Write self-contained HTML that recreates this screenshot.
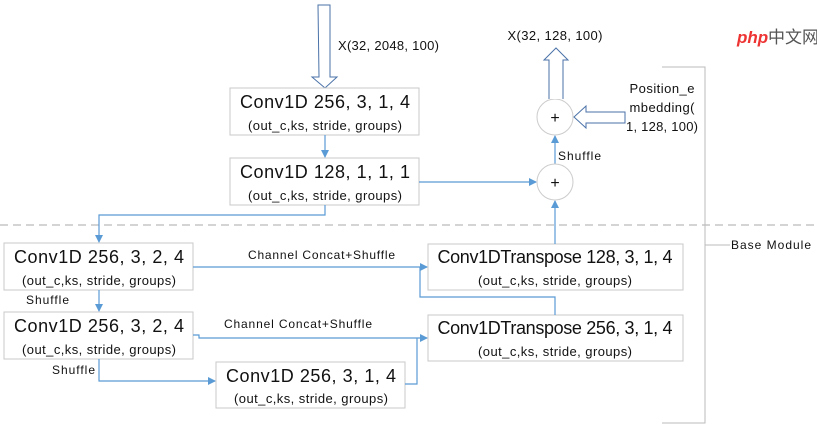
<!DOCTYPE html>
<html><head><meta charset="utf-8"><style>
body{margin:0;background:#fff;width:817px;height:442px;overflow:hidden}
text{font-family:"Liberation Sans","Noto Sans CJK SC",sans-serif;fill:#111}
</style></head><body>
<svg width="817" height="442" viewBox="0 0 817 442" xmlns="http://www.w3.org/2000/svg">
<defs><marker id="a" markerWidth="8" markerHeight="8" refX="7" refY="4" orient="auto" markerUnits="userSpaceOnUse"><path d="M0,0 L8,4 L0,8z" fill="#5b9bd5"/></marker></defs>
<line x1="0" y1="225" x2="817" y2="225" stroke="#aaa" stroke-dasharray="8,5"/>
<path d="M662,67 H705 V423 H662 M705,245 H730" fill="none" stroke="#bbb"/>
<text x="731" y="249" font-size="12" textLength="80">Base Module</text>
<text x="737" y="43" font-size="17" style="fill:#e33;font-weight:bold;font-style:italic">php</text>
<text x="768" y="43" font-size="17" style="fill:#555">中文网</text>
<path d="M318,5 H330 V77 H337 L325,88 L312,77 H319 Z" fill="#fff" stroke="#4a72a8"/>
<text x="338" y="50" font-size="13" textLength="101">X(32, 2048, 100)</text>
<g fill="#fff" stroke="#c8c8c8">
<rect x="230" y="88" width="189" height="47"/>
<rect x="230" y="158" width="189" height="47"/>
<rect x="4" y="243" width="189" height="47"/>
<rect x="4" y="312" width="189" height="47"/>
<rect x="216" y="362" width="189" height="46"/>
<rect x="428" y="244" width="255" height="46"/>
<rect x="428" y="315" width="255" height="46"/>
</g>
<g font-size="18" text-anchor="middle">
<text x="325" y="108" textLength="170">Conv1D 256, 3, 1, 4</text>
<text x="325" y="178" textLength="170">Conv1D 128, 1, 1, 1</text>
<text x="99" y="263" textLength="170">Conv1D 256, 3, 2, 4</text>
<text x="99" y="332" textLength="170">Conv1D 256, 3, 2, 4</text>
<text x="311" y="382" textLength="170">Conv1D 256, 3, 1, 4</text>
<text x="555" y="263" textLength="235">Conv1DTranspose 128, 3, 1, 4</text>
<text x="555" y="334" textLength="235">Conv1DTranspose 256, 3, 1, 4</text>
</g>
<g font-size="13" text-anchor="middle">
<text x="325" y="130" textLength="154">(out_c,ks, stride, groups)</text>
<text x="325" y="200" textLength="154">(out_c,ks, stride, groups)</text>
<text x="99" y="285" textLength="154">(out_c,ks, stride, groups)</text>
<text x="99" y="354" textLength="154">(out_c,ks, stride, groups)</text>
<text x="311" y="403" textLength="154">(out_c,ks, stride, groups)</text>
<text x="555" y="285" textLength="154">(out_c,ks, stride, groups)</text>
<text x="555" y="356" textLength="154">(out_c,ks, stride, groups)</text>
</g>
<g font-size="12">
<text x="248" y="259" textLength="147">Channel Concat+Shuffle</text>
<text x="224" y="328" textLength="148">Channel Concat+Shuffle</text>
<text x="26" y="304" textLength="43">Shuffle</text>
<text x="52" y="374" textLength="43">Shuffle</text>
<text x="558" y="160" textLength="43">Shuffle</text>
</g>
<g fill="none" stroke="#5b9bd5" stroke-width="1.2">
<line x1="325" y1="135" x2="325" y2="157" marker-end="url(#a)"/>
<line x1="419" y1="182" x2="536" y2="182" marker-end="url(#a)"/>
<path d="M325,205 V215 H99 V242" marker-end="url(#a)"/>
<line x1="555" y1="244" x2="555" y2="201" marker-end="url(#a)"/>
<line x1="555" y1="164" x2="555" y2="136" marker-end="url(#a)"/>
<path d="M193,267 H427" marker-end="url(#a)"/>
<path d="M555,315 V297 H420 V267"/>
<line x1="99" y1="290" x2="99" y2="311" marker-end="url(#a)"/>
<path d="M193,335 H199 V338 H427" marker-end="url(#a)"/>
<path d="M99,359 V381 H215" marker-end="url(#a)"/>
<path d="M405,384 H417 V338"/>
</g>
<circle cx="555" cy="117" r="18" fill="#fff" stroke="#ccc"/>
<circle cx="555" cy="182" r="18" fill="#fff" stroke="#ccc"/>
<text x="555" y="123" font-size="16" text-anchor="middle">+</text>
<text x="555" y="188" font-size="16" text-anchor="middle">+</text>
<path d="M549,99 V60 H544 L556,48 L568,60 H563 V99" fill="#fff" stroke="#4a72a8"/>
<text x="555" y="40" font-size="13" text-anchor="middle" textLength="95">X(32, 128, 100)</text>
<path d="M625,112 H586 V106 L574,117 L586,128 V123 H625 Z" fill="#fff" stroke="#4a72a8"/>
<g font-size="13" text-anchor="middle">
<text x="662" y="93" textLength="65">Position_e</text>
<text x="662" y="112" textLength="65">mbedding(</text>
<text x="662" y="131" textLength="72">1, 128, 100)</text>
</g>
</svg>
</body></html>
